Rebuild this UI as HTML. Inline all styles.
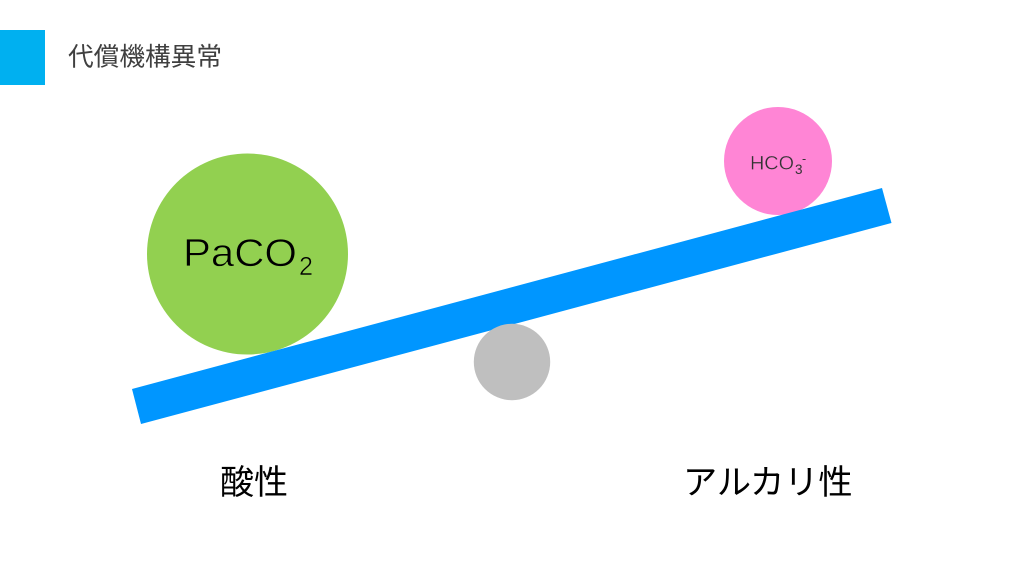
<!DOCTYPE html>
<html lang="ja">
<head>
<meta charset="utf-8">
<title>代償機構異常</title>
<style>
html,body{margin:0;padding:0;background:#fff;width:1024px;height:576px;overflow:hidden}
svg{display:block}
.j{font-family:"Liberation Sans","Noto Sans CJK JP",sans-serif}
.l{font-family:"Liberation Sans",sans-serif}
</style>
</head>
<body>
<svg width="1024" height="576" viewBox="0 0 1024 576" xmlns="http://www.w3.org/2000/svg">
<rect x="0" y="30" width="45" height="55" fill="#00b0f0"/>
<text class="j" x="68" y="65.5" font-size="25.7" fill="#404040" textLength="154" lengthAdjust="spacingAndGlyphs">代償機構異常</text>
<circle cx="247.5" cy="254" r="100.5" fill="#92d050"/>
<circle cx="778" cy="161" r="54" fill="#ff85d5"/>
<polygon points="132,389 882,188 891.5,223 141,424" fill="#0096ff"/>
<circle cx="512" cy="362" r="38.2" fill="#bfbfbf"/>
<text class="l" x="183" y="266" font-size="39" fill="#000" stroke="#92d050" stroke-width="0.7" textLength="114" lengthAdjust="spacingAndGlyphs">PaCO</text>
<text class="l" x="299" y="275" font-size="25.5" fill="#000" stroke="#92d050" stroke-width="0.5" textLength="14" lengthAdjust="spacingAndGlyphs">2</text>
<text class="l" x="750" y="169.5" font-size="19.5" fill="#333" stroke="#ff85d5" stroke-width="0.35" textLength="44" lengthAdjust="spacingAndGlyphs">HCO</text>
<text class="l" x="795" y="174" font-size="13.5" fill="#333">3</text>
<text class="l" x="802" y="163" font-size="12.5" fill="#333">-</text>
<text class="j" x="220" y="494" font-size="34" fill="#000">酸性</text>
<text class="j" x="683" y="494" font-size="34.2" fill="#000">アルカリ性</text>
</svg>
</body>
</html>
